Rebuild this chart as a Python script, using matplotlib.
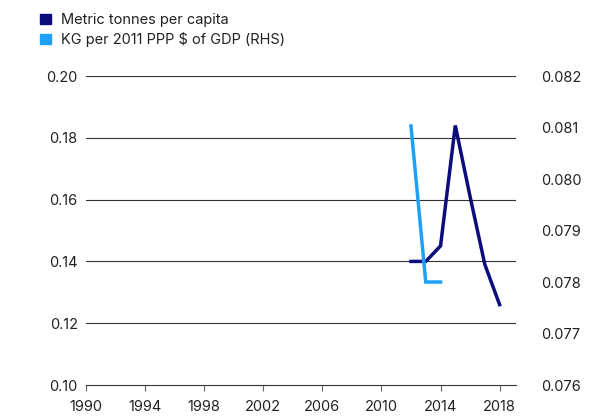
import numpy as np
import matplotlib.pyplot as plt
from matplotlib.patches import Patch

plt.rcParams['font.family'] = ['Inter', 'DejaVu Sans']

# Data
years_tonnes = [2012, 2013, 2014, 2015, 2016, 2017, 2018]
tonnes_per_capita = [0.140, 0.140, 0.145, 0.184, 0.161, 0.139, 0.126]

years_kg = [2012, 2013, 2014]
kg_per_gdp = [0.08103, 0.0780, 0.0780]

x_ticks = list(range(1990, 2019, 4))
left_ticks = [0.10, 0.12, 0.14, 0.16, 0.18, 0.20]
right_ticks = [0.076, 0.077, 0.078, 0.079, 0.080, 0.081, 0.082]

navy = '#0c0c7c'
light = '#1ea0f7'
text_col = '#222222'

fig = plt.figure(figsize=(5.95, 4.17), dpi=100)
ax = fig.add_axes([0.1445, 0.0767, 0.7225, 0.741])
ax2 = ax.twinx()

# Left axis
ax.set_xlim(1990.0, 2019.1)
ax.set_ylim(0.10, 0.20)
ax.set_yticks(left_ticks)
ax.set_yticklabels(['%.2f' % v for v in left_ticks])
ax.set_xticks(x_ticks)
for v in left_ticks[1:]:
    ax.axhline(v, color='#333333', lw=0.8, zorder=0)
for s in ['top', 'left', 'right']:
    ax.spines[s].set_visible(False)
ax.spines['bottom'].set_color('#333333')
ax.spines['bottom'].set_linewidth(0.8)
ax.tick_params(axis='y', length=0, pad=6, labelsize=10.5, labelcolor=text_col)
ax.tick_params(axis='x', length=4, width=0.8, color='#666666', labelsize=10.5,
               labelcolor=text_col, pad=7)

# Right axis
ax2.set_ylim(0.076, 0.082)
ax2.set_yticks(right_ticks)
ax2.set_yticklabels(['%.3f' % v for v in right_ticks])
for s in ['top', 'left', 'right', 'bottom']:
    ax2.spines[s].set_visible(False)
ax2.tick_params(axis='y', length=0, pad=18, labelsize=10.5, labelcolor=text_col)

ax.plot(years_tonnes, tonnes_per_capita, color=navy, lw=2.5,
        solid_joinstyle='miter')
ax2.plot(years_kg, kg_per_gdp, color=light, lw=2.5, solid_joinstyle='miter')

handles = [Patch(color=navy, label='Metric tonnes per capita'),
           Patch(color=light, label='KG per 2011 PPP $ of GDP (RHS)')]
fig.legend(handles=handles, loc='upper left', bbox_to_anchor=(0.045, 1.0),
           frameon=False, fontsize=10.5, handlelength=0.75, handleheight=0.75,
           handletextpad=0.7, labelspacing=0.35, borderpad=0.4,
           labelcolor=text_col)

fig.savefig('out.png', dpi=100)
